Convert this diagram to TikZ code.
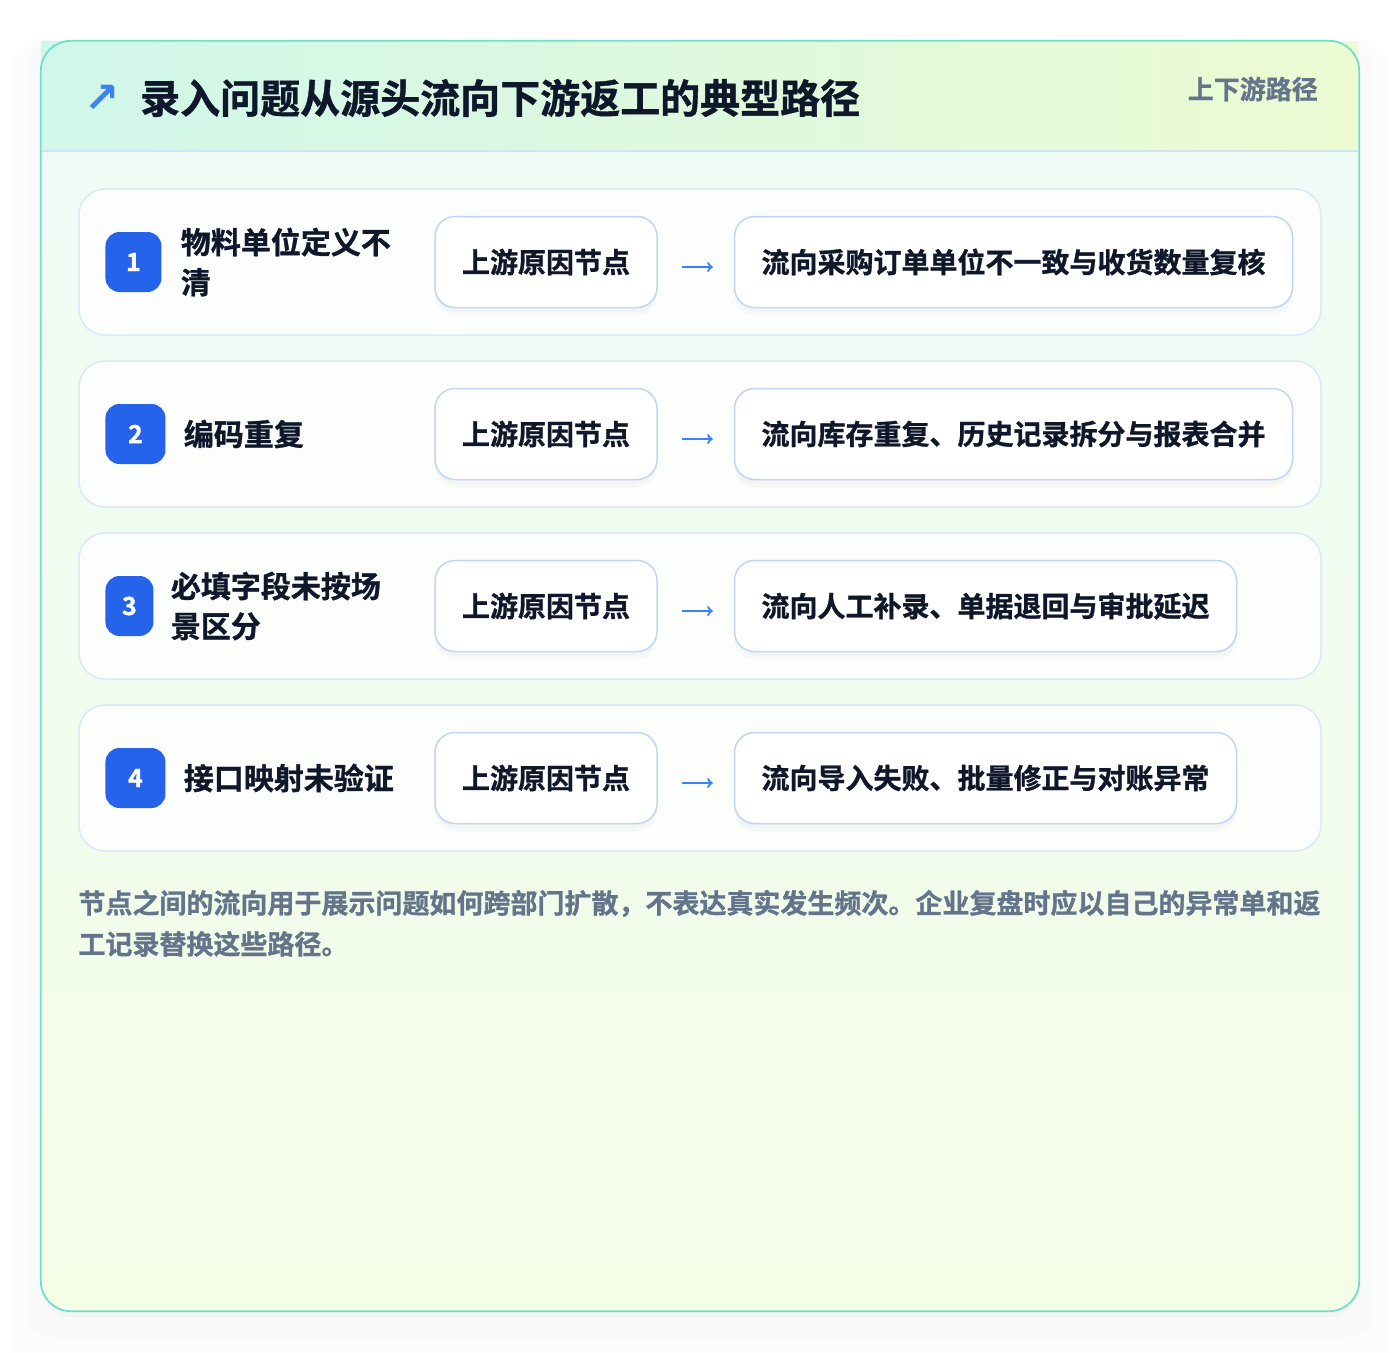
\documentclass[tikz,border=0pt]{standalone}
\usepackage{fontspec}
\setmainfont{Noto Sans CJK SC}[BoldFont={* Bold}, BoldFeatures={FakeBold=1}]
\newfontfamily\symfont{DejaVu Sans}
\usetikzlibrary{positioning, shadows}
\definecolor{ink}{HTML}{0F172A}
\definecolor{muted}{HTML}{64748B}
\definecolor{cardline}{HTML}{6FE0CA}
\definecolor{headleft}{HTML}{D0F7EA}
\definecolor{headright}{HTML}{ECFBD2}
\definecolor{headline}{HTML}{CFE3F5}
\definecolor{bodytop}{HTML}{EEFBF6}
\definecolor{bodybot}{HTML}{F4FDE6}
\definecolor{rowline}{HTML}{D8E8F8}
\definecolor{boxline}{HTML}{BFD6F4}
\definecolor{badgeblue}{HTML}{2563EB}
\definecolor{arrowblue}{HTML}{3B82F6}
\tikzset{
  card/.style={minimum width=1318pt, minimum height=1270pt, inner sep=0pt, rounded corners=30pt,
               top color=bodytop, bottom color=bodybot,
               drop shadow={shadow xshift=0pt, shadow yshift=-27pt, shadow scale=1.045, opacity=.018},
               drop shadow={shadow xshift=0pt, shadow yshift=-14pt, shadow scale=1.022, opacity=.025},
               drop shadow={shadow xshift=0pt, shadow yshift=-6pt, opacity=.035}},
  cardframe/.style={draw=cardline, line width=1.8pt, rounded corners=30pt},
  header/.style={minimum width=1317pt, minimum height=110pt, inner sep=0pt, left color=headleft, right color=headright},
  headline/.style={draw=headline, line width=1.5pt},
  icon/.style={font=\symfont\bfseries\fontsize{42}{42}\selectfont, text=arrowblue, inner sep=0pt},
  title/.style={font=\fontsize{40}{48}\selectfont\bfseries, text=ink, inner sep=0pt},
  tag/.style={font=\fontsize{26}{30}\selectfont\bfseries, text=muted, inner sep=0pt},
  row/.style={draw=rowline, line width=1.5pt, fill=white, fill opacity=.8, rounded corners=26pt,
              minimum width=1242pt, minimum height=146pt},
  badge/.style={fill=badgeblue, rounded corners=14pt, minimum height=60pt, inner sep=0pt,
                text=white, font=\fontsize{25}{25}\selectfont\bfseries},
  issue/.style={font=\fontsize{30}{40}\selectfont\bfseries, text=ink, align=left, inner sep=0pt},
  cause/.style={draw=boxline, line width=1.5pt, fill=white, rounded corners=20pt, minimum height=91pt,
                inner xsep=27pt, font=\fontsize{28}{34}\selectfont\bfseries, text=ink,
                drop shadow={shadow xshift=0pt, shadow yshift=-8pt, opacity=.035},
                drop shadow={shadow xshift=0pt, shadow yshift=-4pt, opacity=.04}},
  effect/.style={cause},
  arrow/.style={draw=arrowblue, line width=2.4pt, ->, shorten <=24pt, shorten >=21pt},
  footnote/.style={font=\fontsize{27}{41}\selectfont\bfseries, text=muted, align=left, inner sep=0pt}
}
\begin{document}
\begin{tikzpicture}[x=1pt, y=-1pt]
  \path[use as bounding box, fill=white] (0,0) rectangle (1400,1352);

  \node (card) [card] at (700,676) {};
  \node (header) [header] at (699.5,96) {};
  \draw [headline] (header.south west) -- (header.south east);
  \draw [cardframe] (card.north west) rectangle (card.south east);

  \node (icon) [icon] at (102,99) {↗};
  \node (title) [title, anchor=west] at (140,98) {录入问题从源头流向下游返工的典型路径};
  \node (tag) [tag, anchor=east] at (1318,89) {上下游路径};

  \node (row1) [row] at (700,262) {};
  \node (row2) [row, below=24.5pt of row1] {};
  \node (row3) [row, below=24.5pt of row2] {};
  \node (row4) [row, below=24.5pt of row3] {};

  \node (badge1) [badge, minimum width=56pt, anchor=west] at ([xshift=27pt]row1.west) {1};
  \node (issue1) [issue, right=19pt of badge1] {物料单位定义不\\清};
  \node (cause1) [cause, anchor=west] at ([xshift=356pt]row1.west) {上游原因节点};
  \node (effect1) [effect, right=76pt of cause1] {流向采购订单单位不一致与收货数量复核};

  \node (badge2) [badge, minimum width=60pt, anchor=west] at ([xshift=27pt]row2.west) {2};
  \node (issue2) [issue, right=18pt of badge2] {编码重复};
  \node (cause2) [cause, anchor=west] at ([xshift=356pt]row2.west) {上游原因节点};
  \node (effect2) [effect, right=76pt of cause2] {流向库存重复、历史记录拆分与报表合并};

  \node (badge3) [badge, minimum width=48pt, anchor=west] at ([xshift=27pt]row3.west) {3};
  \node (issue3) [issue, right=17pt of badge3] {必填字段未按场\\景区分};
  \node (cause3) [cause, anchor=west] at ([xshift=356pt]row3.west) {上游原因节点};
  \node (effect3) [effect, right=76pt of cause3] {流向人工补录、单据退回与审批延迟};

  \node (badge4) [badge, minimum width=60pt, anchor=west] at ([xshift=27pt]row4.west) {4};
  \node (issue4) [issue, right=18pt of badge4] {接口映射未验证};
  \node (cause4) [cause, anchor=west] at ([xshift=356pt]row4.west) {上游原因节点};
  \node (effect4) [effect, right=76pt of cause4] {流向导入失败、批量修正与对账异常};

  \draw [arrow] ([yshift=-5pt]cause1.east) -- ([yshift=-5pt]effect1.west);
  \draw [arrow] ([yshift=-5pt]cause2.east) -- ([yshift=-5pt]effect2.west);
  \draw [arrow] ([yshift=-5pt]cause3.east) -- ([yshift=-5pt]effect3.west);
  \draw [arrow] ([yshift=-5pt]cause4.east) -- ([yshift=-5pt]effect4.west);

  \node (note) [footnote, anchor=north west] at ([yshift=-38pt]row4.south west)
    {节点之间的流向用于展示问题如何跨部门扩散，不表达真实发生频次。企业复盘时应以自己的异常单和返\\工记录替换这些路径。};
\end{tikzpicture}
\end{document}
